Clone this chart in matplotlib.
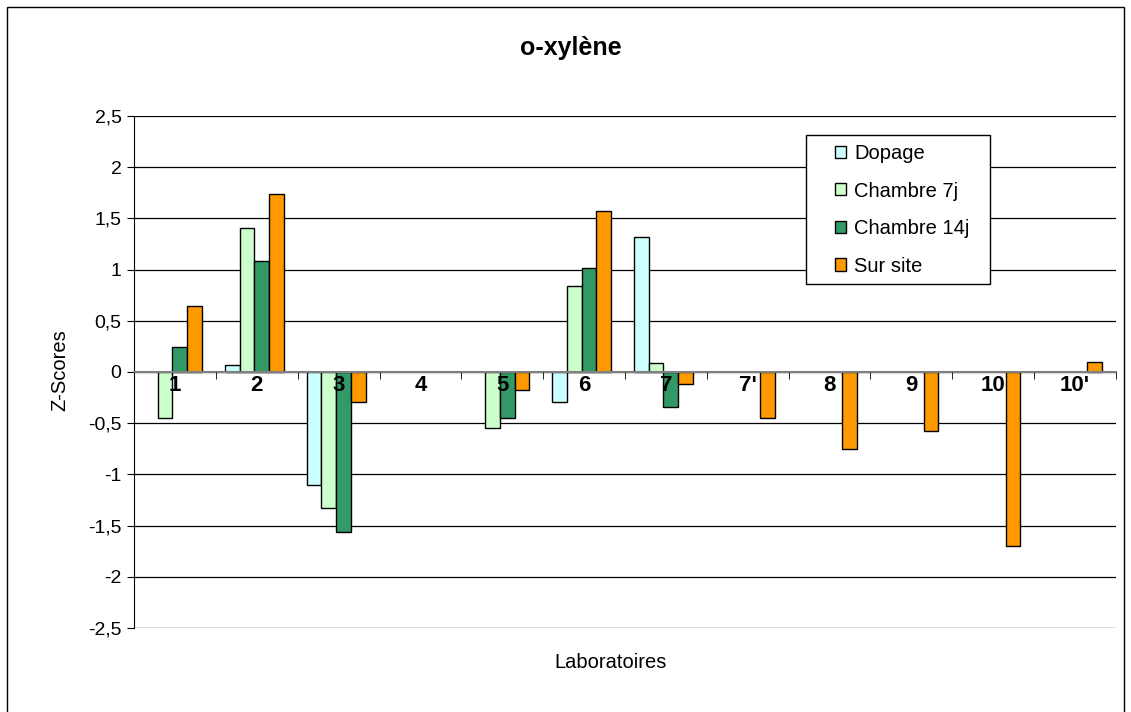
import numpy as np
import matplotlib.pyplot as plt
from matplotlib.patches import Rectangle

plt.rcParams['font.family'] = ['Liberation Sans', 'DejaVu Sans']

# données
laboratoires = ['1', '2', '3', '4', '5', '6', '7', "7'", '8', '9', '10', "10'"]
dopage = [np.nan, 0.07, -1.10, np.nan, np.nan, -0.29, 1.32, np.nan, np.nan, np.nan, np.nan, np.nan]
chambre_7j = [-0.45, 1.41, -1.33, np.nan, -0.55, 0.84, 0.085, np.nan, np.nan, np.nan, np.nan, np.nan]
chambre_14j = [0.24, 1.08, -1.56, np.nan, -0.45, 1.02, -0.34, np.nan, np.nan, np.nan, np.nan, np.nan]
sur_site = [0.64, 1.74, -0.29, np.nan, -0.18, 1.57, -0.12, -0.45, -0.75, -0.58, -1.70, 0.10]

series = [('Dopage', dopage, '#CCFFFF'),
          ('Chambre 7j', chambre_7j, '#CCFFCC'),
          ('Chambre 14j', chambre_14j, '#339966'),
          ('Sur site', sur_site, '#FF9900')]

W, H = 1131, 712
fig = plt.figure(figsize=(W / 100, H / 100), dpi=100)
fig.patches.append(Rectangle((7 / W, -0.01), 1117 / W, 1 - 7 / H + 0.01,
                             transform=fig.transFigure, fill=False,
                             edgecolor='black', linewidth=1))
# zone de tracé : x 134..1116, y 116..628 (pixels)
ax = fig.add_axes([134 / W, 1 - 628 / H, (1116 - 134) / W, (628 - 116) / H])


def px2ax(px, py):
    return (px - 134) / 982, (628 - py) / 512


x = np.arange(len(laboratoires))
w = 0.18
for i, (nom, vals, col) in enumerate(series):
    ax.bar(x + (i - 1.5) * w - 0.03, vals, w, color=col, edgecolor='black',
           linewidth=1, label=nom, zorder=3)

ax.set_xlim(-0.5, len(laboratoires) - 0.5)
ax.set_ylim(-2.5, 2.5)
ticks = np.arange(-2.5, 2.51, 0.5)
ax.set_yticks(ticks)
ax.set_yticklabels([('%g' % v).replace('.', ',') for v in ticks], fontsize=14)
ax.yaxis.grid(True, color='black', linewidth=0.9, zorder=0)
ax.tick_params(axis='y', length=5, pad=4)

# axe des x à zéro
ax.spines['top'].set_visible(False)
ax.spines['right'].set_visible(False)
ax.spines['bottom'].set_position(('data', 0))
ax.spines['bottom'].set_color('#808080')
ax.spines['bottom'].set_linewidth(1.5)
ax.spines['bottom'].set_zorder(4)
ax.xaxis.set_zorder(5)
ax.set_xticks(x)
ax.set_xticklabels(laboratoires, fontsize=16, fontweight='bold')
ax.tick_params(axis='x', which='major', length=0, pad=2)
ax.set_xticks(np.arange(-0.5, len(laboratoires)), minor=True)
ax.tick_params(axis='x', which='minor', length=5, direction='out', color='black')

fig.text(571 / W, 1 - 48 / H, 'o-xylène', fontsize=18, fontweight='bold',
         ha='center', va='center')
fig.text(60 / W, 1 - 370 / H, 'Z-Scores', fontsize=14.5, rotation=90,
         ha='center', va='center')
fig.text(611 / W, 1 - 663 / H, 'Laboratoires', fontsize=14.5, ha='center', va='center')

# cadre de la légende
x0, y1 = px2ax(806, 284)
x1, y0 = px2ax(990, 135)
ax.add_patch(Rectangle((x0, y1), x1 - x0, y0 - y1, transform=ax.transAxes,
                       facecolor='white', edgecolor='black', linewidth=1, zorder=6))
leg = ax.legend(loc='upper left', bbox_to_anchor=px2ax(835, 144),
                fontsize=14.5, frameon=False,
                handlelength=0.55, handleheight=0.55, labelspacing=0.92,
                borderpad=0, handletextpad=0.4, borderaxespad=0)
leg.set_zorder(7)

fig.savefig('out.png', dpi=100)
